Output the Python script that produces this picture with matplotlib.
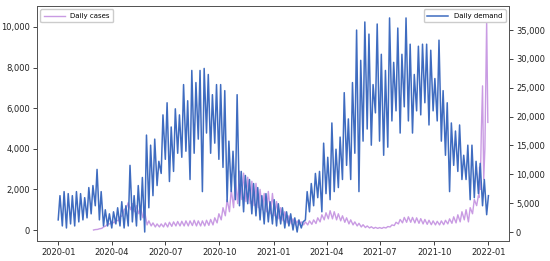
import numpy as np
import pandas as pd
import matplotlib
matplotlib.use("Agg")
import matplotlib.pyplot as plt
import matplotlib.dates as mdates
from matplotlib.ticker import FuncFormatter

# daily demand (right axis): weekly low / high, weeks starting 2020-01-01
demand_low = [2100, 1050, 700, 1400, 1050, 1750, 2100, 2450, 3150, 4550,
              2100, 1050, 1050, 700, 1400, 1050, 700, 1050, 1750, 1050,
              2100, 0, 4200, 6300, 8050, 10150, 12600, 8750, 10500, 13650,
              12950, 14000, 9100, 13650, 16100, 7000, 17150, 13650, 15400, 12600,
              11200, 5250, 7000, 5600, 4550, 3500, 4900, 3150, 2800, 2100,
              1400, 1750, 1400, 1050, 1400, 700, 1050, 350, 0, 700,
              2100, 3500, 4550, 5950, 3500, 6650, 5600, 7000, 7700, 9100,
              11550, 9100, 13650, 7000, 15750, 17850, 15050, 20650, 15750, 13300,
              14700, 19250, 21000, 17150, 21700, 19250, 17150, 21000, 20300, 22400,
              18550, 21000, 19250, 15750, 13300, 7000, 11550, 10500, 9100, 9100,
              5600, 5950, 6650, 4550, 3000]
demand_high = [6300, 7000, 6650, 6300, 7000, 6650, 5950, 7700, 8050, 10850,
               7000, 3850, 3150, 3500, 4200, 5250, 4550, 11550, 6300, 8050,
               9450, 16800, 15050, 16100, 12250, 20300, 22400, 18200, 21350, 20300,
               25550, 22750, 28000, 25900, 28000, 28350, 27300, 23800, 25550, 25550,
               24500, 15750, 14000, 23800, 10500, 9800, 9100, 8400, 7700, 6300,
               6650, 5250, 5600, 4900, 4200, 3500, 3150, 2450, 2100, 1750,
               7000, 8400, 10150, 10500, 15400, 12950, 18900, 14350, 16450, 24150,
               19600, 25900, 35000, 29750, 36400, 34300, 25550, 36050, 30800, 28000,
               37100, 29400, 35350, 30800, 37100, 32550, 27300, 32200, 32550, 32550,
               31500, 26600, 33250, 24500, 22400, 18900, 17500, 18550, 13300, 15050,
               15050, 12250, 11900, 9100, 6300]

# daily cases (left axis): weekly low / high, weeks starting 2020-03-01
cases_low = [0, 30, 80, 200, 300, 350, 450, 700, 1100, 1000,
             900, 800, 600, 250, 200, 150, 150, 150, 150, 180,
             200, 200, 200, 200, 220, 200, 200, 200, 230, 250,
             350, 500, 700, 900, 1100, 1300, 1500, 1400, 1300, 1200,
             1100, 1000, 900, 800, 700, 550, 450, 350, 300, 250,
             250, 250, 250, 280, 320, 400, 500, 550, 550, 500,
             450, 380, 300, 250, 200, 150, 120, 100, 80, 80,
             80, 100, 150, 220, 300, 350, 380, 380, 350, 330,
             300, 280, 260, 250, 250, 260, 300, 330, 350, 400,
             500, 400, 800, 1200]
cases_high = [20, 60, 150, 300, 420, 500, 650, 1000, 1350, 1300,
              1200, 1100, 900, 450, 350, 300, 300, 350, 380, 400,
              420, 430, 450, 450, 480, 450, 450, 480, 520, 600,
              800, 1100, 1500, 2000, 2500, 2900, 2800, 2600, 2400, 2300,
              2000, 1800, 1900, 1800, 1400, 1100, 900, 700, 550, 450,
              400, 400, 450, 500, 600, 750, 850, 950, 900, 800,
              700, 600, 500, 400, 330, 260, 200, 160, 130, 120,
              130, 170, 250, 380, 520, 620, 650, 620, 600, 560,
              520, 480, 450, 430, 450, 480, 550, 650, 750, 900,
              1000, 1100, 1500, 1700]
tail_dates = ["2021-12-16", "2021-12-17", "2021-12-18", "2021-12-20", "2021-12-22",
              "2021-12-24", "2021-12-26", "2021-12-29", "2021-12-31"]
tail_cases = [1600, 3100, 2000, 4900, 7100, 2500, 4000, 10300, 5300]


def zigzag(start, low, high):
    weeks = pd.date_range(start, periods=len(low), freq="7D")
    d = []
    v = []
    for w, lo, hi in zip(weeks, low, high):
        d += [w, w + pd.Timedelta(days=3)]
        v += [lo, hi]
    return pd.Series(v, index=d)


demand = zigzag("2020-01-01", demand_low, demand_high)
cases = zigzag("2020-03-01", cases_low, cases_high)
cases = pd.concat([cases, pd.Series(tail_cases, index=pd.to_datetime(tail_dates))])

plt.rcParams["font.family"] = "DejaVu Sans"
fig = plt.figure(figsize=(5.5, 2.61), dpi=100)
ax1 = fig.add_axes([0.0673, 0.0766, 0.8582, 0.9004])
ax2 = ax1.twinx()

ax1.plot(cases.index, cases.values, color="#c99be3", lw=1.0, label="Daily cases")
ax2.plot(demand.index, demand.values, color="#3f6cc0", lw=1.1, label="Daily demand")

ax1.set_xlim(pd.Timestamp("2019-11-26"), pd.Timestamp("2022-02-05"))
ax1.set_ylim(-542, 11034)
ax2.set_ylim(-1560, 39170)
ax1.set_yticks([0, 2000, 4000, 6000, 8000, 10000])
ax2.set_yticks([0, 5000, 10000, 15000, 20000, 25000, 30000, 35000])

fmt = FuncFormatter(lambda v, p: f"{int(v):,}")
ax1.yaxis.set_major_formatter(fmt)
ax2.yaxis.set_major_formatter(fmt)
ax1.xaxis.set_major_locator(mdates.MonthLocator(bymonth=[1, 4, 7, 10]))
ax1.xaxis.set_major_formatter(mdates.DateFormatter("%Y-%m"))

for ax in (ax1, ax2):
    ax.tick_params(labelsize=6, length=3, width=0.6, pad=2, colors="#222222")
    for s in ax.spines.values():
        s.set_linewidth(0.7)
        s.set_color("#555555")

ax1.legend(loc="upper left", fontsize=5, handlelength=3, borderpad=0.5, framealpha=1)
ax2.legend(loc="upper right", fontsize=5, handlelength=3, borderpad=0.5, framealpha=1)

plt.savefig("out.png", dpi=100)
